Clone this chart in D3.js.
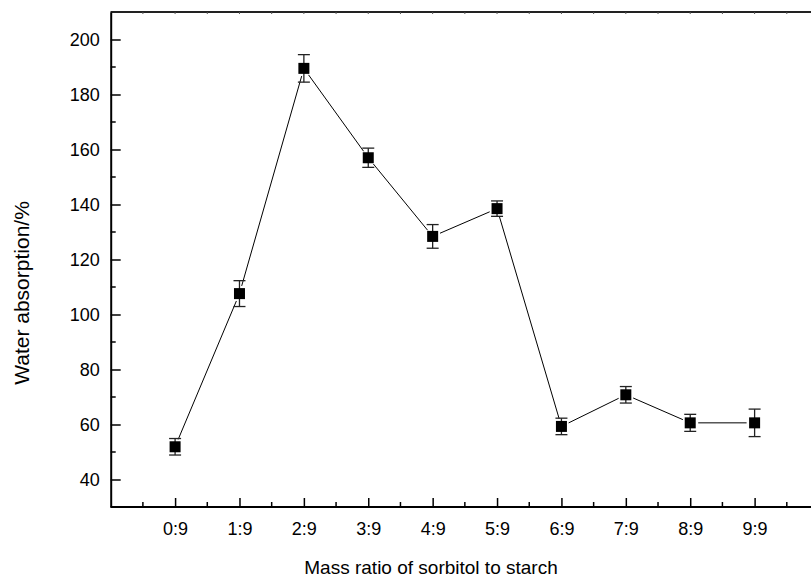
<!doctype html>
<html>
<head>
<meta charset="utf-8">
<script src="https://cdn.jsdelivr.net/npm/d3@7/dist/d3.min.js"></script>
<style>
  body { margin: 0; background: #fff; }
  text { font-family: "Liberation Sans", Arial, sans-serif; fill: #000; }
</style>
</head>
<body>
<svg width="811" height="583"></svg>
<script>
// data
var ratios = ["0:9", "1:9", "2:9", "3:9", "4:9", "5:9", "6:9", "7:9", "8:9", "9:9"];
var absorption = [51.9, 107.6, 189.5, 157.0, 128.4, 138.5, 59.3, 70.8, 60.6, 60.6];
var errors = [3.0, 4.7, 5.0, 3.5, 4.3, 2.8, 3.0, 3.0, 3.1, 5.0];
var yTicks = [40, 60, 80, 100, 120, 140, 160, 180, 200];

var svg = d3.select("svg");

var x = d3.scaleLinear().domain([-1, 10]).range([110.7, 819]);
var y = d3.scaleLinear().domain([30, 210]).range([507, 12]);

// minor ticks
var yMinor = d3.range(30, 211, 10).filter(function(v) { return yTicks.indexOf(v) < 0; });
var xMinor = d3.range(-0.5, 10, 1);

svg.append("g").selectAll("line").data(yMinor).enter().append("line")
   .attr("x1", x(-1)).attr("x2", x(-1) + 5)
   .attr("y1", function(d) { return y(d); }).attr("y2", function(d) { return y(d); })
   .attr("stroke", "#000").attr("stroke-width", 1.5);

svg.append("g").selectAll("line").data(xMinor).enter().append("line")
   .attr("x1", function(d) { return x(d); }).attr("x2", function(d) { return x(d); })
   .attr("y1", y(30)).attr("y2", y(30) - 5)
   .attr("stroke", "#000").attr("stroke-width", 1.5);

// top frame with tiny ticks
svg.append("line")
   .attr("x1", x(-1)).attr("x2", 811)
   .attr("y1", y(210)).attr("y2", y(210))
   .attr("stroke", "#222").attr("stroke-width", 2);
svg.append("g").selectAll("line").data(d3.range(-0.5, 10, 0.5)).enter().append("line")
   .attr("x1", function(d) { return x(d); }).attr("x2", function(d) { return x(d); })
   .attr("y1", y(210)).attr("y2", y(210) + 2)
   .attr("stroke", "#555").attr("stroke-width", 1);

// left axis
var gy = svg.append("g")
   .attr("transform", "translate(" + x(-1) + ",0)")
   .call(d3.axisLeft(y).tickValues(yTicks).tickSize(-10).tickPadding(11).tickSizeOuter(0));
gy.select(".domain").attr("stroke", "#000").attr("stroke-width", 2);
gy.selectAll(".tick line").attr("stroke-width", 1.5);
gy.selectAll(".tick text").attr("font-size", "18px").attr("font-family", "Liberation Sans, Arial, sans-serif");

// bottom axis
var gx = svg.append("g")
   .attr("transform", "translate(0," + y(30) + ")")
   .call(d3.axisBottom(x).tickValues(d3.range(0, 10)).tickSize(-9).tickPadding(15)
      .tickSizeOuter(0).tickFormat(function(d) { return ratios[d]; }));
gx.select(".domain").attr("stroke", "#000").attr("stroke-width", 2)
   .attr("d", "M" + x(-1) + ",0H811");
gx.selectAll(".tick line").attr("stroke-width", 1.5);
gx.selectAll(".tick text").attr("font-size", "18px").attr("font-family", "Liberation Sans, Arial, sans-serif");

// connecting line with gaps at the markers
var pts = absorption.map(function(v, i) { return [x(i), y(v)]; });
var gap = 8;
var segs = [];
for (var i = 0; i < pts.length - 1; i++) {
  var a = pts[i], b = pts[i + 1];
  var dx = b[0] - a[0], dy = b[1] - a[1], len = Math.sqrt(dx * dx + dy * dy);
  segs.push([a[0] + dx / len * gap, a[1] + dy / len * gap, b[0] - dx / len * gap, b[1] - dy / len * gap]);
}
svg.append("g").selectAll("line").data(segs).enter().append("line")
   .attr("x1", function(d) { return d[0]; }).attr("y1", function(d) { return d[1]; })
   .attr("x2", function(d) { return d[2]; }).attr("y2", function(d) { return d[3]; })
   .attr("stroke", "#000").attr("stroke-width", 1);

// error bars
var eb = svg.append("g").selectAll("g").data(absorption).enter().append("g")
   .attr("stroke", "#222").attr("stroke-width", 1.3);
eb.append("line")
   .attr("x1", function(d, i) { return x(i); }).attr("x2", function(d, i) { return x(i); })
   .attr("y1", function(d, i) { return y(d + errors[i]); })
   .attr("y2", function(d, i) { return y(d - errors[i]); });
eb.append("line")
   .attr("x1", function(d, i) { return x(i) - 6; }).attr("x2", function(d, i) { return x(i) + 6; })
   .attr("y1", function(d, i) { return y(d + errors[i]); })
   .attr("y2", function(d, i) { return y(d + errors[i]); });
eb.append("line")
   .attr("x1", function(d, i) { return x(i) - 6; }).attr("x2", function(d, i) { return x(i) + 6; })
   .attr("y1", function(d, i) { return y(d - errors[i]); })
   .attr("y2", function(d, i) { return y(d - errors[i]); });

// square markers
svg.append("g").selectAll("rect").data(absorption).enter().append("rect")
   .attr("x", function(d, i) { return x(i) - 5.5; })
   .attr("y", function(d) { return y(d) - 5.5; })
   .attr("width", 11).attr("height", 11)
   .attr("fill", "#000");

// axis titles
svg.append("text")
   .attr("x", 431).attr("y", 574)
   .attr("text-anchor", "middle")
   .attr("font-size", "19px")
   .text("Mass ratio of sorbitol to starch");

svg.append("text")
   .attr("transform", "translate(29,293) rotate(-90)")
   .attr("text-anchor", "middle")
   .attr("font-size", "21px")
   .text("Water absorption/%");
</script>
</body>
</html>
